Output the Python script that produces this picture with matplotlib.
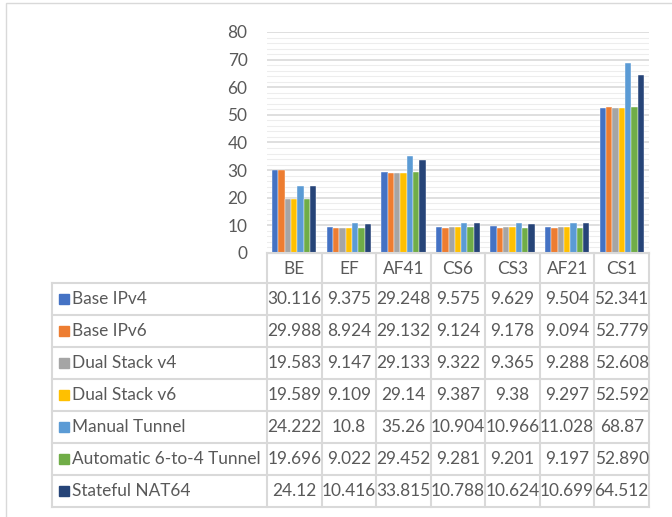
import matplotlib.pyplot as plt
import numpy as np
from matplotlib.patches import Rectangle

plt.rcParams["font.family"] = ["Lato", "DejaVu Sans"]

categories = ["BE", "EF", "AF41", "CS6", "CS3", "AF21", "CS1"]
series = ["Base IPv4", "Base IPv6", "Dual Stack v4", "Dual Stack v6",
          "Manual Tunnel", "Automatic 6-to-4 Tunnel", "Stateful NAT64"]
values = [
    [30.116, 9.375, 29.248, 9.575, 9.629, 9.504, 52.341],
    [29.988, 8.924, 29.132, 9.124, 9.178, 9.094, 52.779],
    [19.583, 9.147, 29.133, 9.322, 9.365, 9.288, 52.608],
    [19.589, 9.109, 29.14, 9.387, 9.38, 9.297, 52.592],
    [24.222, 10.8, 35.26, 10.904, 10.966, 11.028, 68.87],
    [19.696, 9.022, 29.452, 9.281, 9.201, 9.197, 52.890],
    [24.12, 10.416, 33.815, 10.788, 10.624, 10.699, 64.512],
]
# text as shown in the table cells
labels = [
    ["30.116", "9.375", "29.248", "9.575", "9.629", "9.504", "52.341"],
    ["29.988", "8.924", "29.132", "9.124", "9.178", "9.094", "52.779"],
    ["19.583", "9.147", "29.133", "9.322", "9.365", "9.288", "52.608"],
    ["19.589", "9.109", "29.14", "9.387", "9.38", "9.297", "52.592"],
    ["24.222", "10.8", "35.26", "10.904", "10.966", "11.028", "68.87"],
    ["19.696", "9.022", "29.452", "9.281", "9.201", "9.197", "52.890"],
    ["24.12", "10.416", "33.815", "10.788", "10.624", "10.699", "64.512"],
]
colors = ["#4472C4", "#ED7D31", "#A5A5A5", "#FFC000", "#5B9BD5", "#70AD47", "#264478"]

W, H = 672, 517
fig = plt.figure(figsize=(W / 100, H / 100), dpi=100)
text_col = "#595959"
line_col = "#d9d9d9"
fs = 12.4

# pixel layout
plot_l, plot_r = 267, 649
plot_t, plot_b = 32, 253
tab_l, tab_b = 52, 507
head_b = 283

def fx(px):
    return px / W

def fy(py):
    return 1 - py / H

# outer chart border
fig.patches.append(Rectangle((fx(6), fy(H + 5)), 1, fy(3) - fy(H + 5),
                             transform=fig.transFigure, fill=False,
                             edgecolor=line_col, linewidth=1))

ax = fig.add_axes([fx(plot_l), fy(plot_b), fx(plot_r) - fx(plot_l), fy(plot_t) - fy(plot_b)])
n = len(series)
x = np.arange(len(categories))
group = 0.81
bw = group / n
for i in range(n):
    ax.bar(x - group / 2 + bw * (i + 0.5), values[i], width=bw, color=colors[i],
           edgecolor="white", linewidth=0.3, zorder=3)

ax.set_xlim(-0.5, len(categories) - 0.5)
ax.set_ylim(0, 80)
ax.set_yticks(np.arange(0, 81, 10))
ax.set_yticks(np.arange(0, 81, 2), minor=True)
ax.grid(axis="y", which="major", color=line_col, linewidth=1.2, zorder=0)
ax.grid(axis="y", which="minor", color="#ededed", linewidth=0.8, zorder=0)
ax.set_xticks([])
ax.tick_params(axis="y", which="both", length=0, labelsize=fs, labelcolor=text_col, pad=14)
for s in ["top", "right", "left"]:
    ax.spines[s].set_visible(False)
ax.spines["bottom"].set_color(line_col)
ax.set_facecolor("none")

# data table below the plot
tab = fig.add_axes([0, 0, 1, 1])
tab.set_xlim(0, W)
tab.set_ylim(H, 0)
tab.axis("off")
tab.patch.set_alpha(0)

col_w = (plot_r - plot_l) / len(categories)
row_h = (tab_b - head_b) / n
lw = 1.5
# vertical lines
for j in range(len(categories) + 1):
    xx = plot_l + j * col_w
    tab.plot([xx, xx], [plot_b, tab_b], color=line_col, lw=lw)
tab.plot([tab_l, tab_l], [head_b, tab_b], color=line_col, lw=lw)
# horizontal lines
tab.plot([plot_l, plot_r], [plot_b, plot_b], color=line_col, lw=lw)
for i in range(n + 1):
    yy = head_b + i * row_h
    tab.plot([tab_l, plot_r], [yy, yy], color=line_col, lw=lw)

for j, c in enumerate(categories):
    tab.text(plot_l + (j + 0.5) * col_w, (plot_b + head_b) / 2 + 1, c,
             ha="center", va="center", fontsize=fs, color=text_col)

for i in range(n):
    yc = head_b + (i + 0.5) * row_h
    tab.add_patch(Rectangle((59, yc - 5), 10, 10, color=colors[i]))
    tab.text(72, yc, series[i], ha="left", va="center", fontsize=fs, color=text_col)
    for j in range(len(categories)):
        tab.text(plot_l + (j + 0.5) * col_w, yc, labels[i][j],
                 ha="center", va="center", fontsize=fs, color=text_col)

fig.savefig("out.png", dpi=100)
